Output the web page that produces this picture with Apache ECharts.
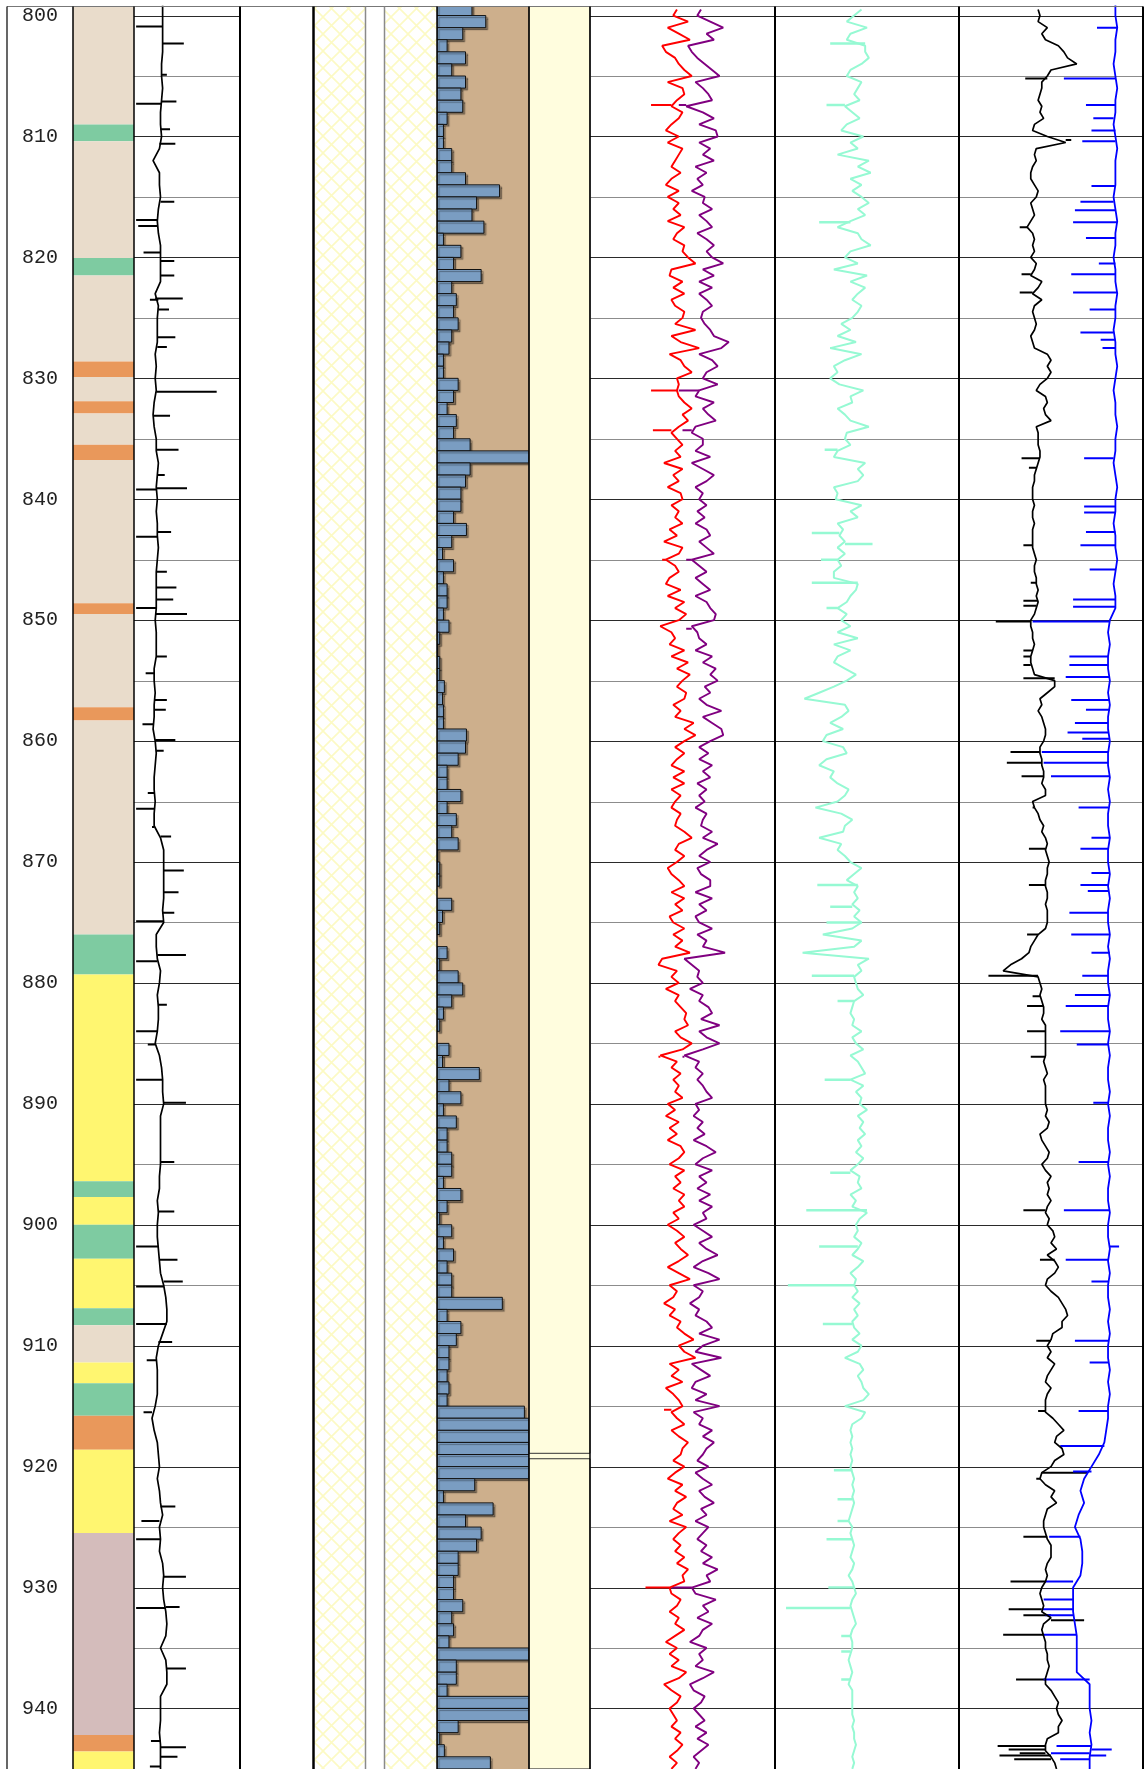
<!DOCTYPE html>
<html>
<head>
<meta charset="utf-8">
<title>Well log</title>
<script src="https://cdn.jsdelivr.net/npm/echarts@6/dist/echarts.min.js"></script>
<style>
  html, body { margin: 0; padding: 0; background: #fff; }
  #main { width: 1147px; height: 1769px; }
</style>
</head>
<body>
<div id="main"></div>
<script>
// ---- depth range and ticks ----
var DEPTH_MIN = 799.25, DEPTH_MAX = 945;
var depthLabels = [800, 810, 820, 830, 840, 850, 860, 870, 880, 890, 900, 910, 920, 930, 940];
var gridDepths = [800, 805, 810, 815, 820, 825, 830, 835, 840, 845, 850, 855, 860, 865, 870,
  875, 880, 885, 890, 895, 900, 905, 910, 915, 920, 925, 930, 935, 940, 945];

// ---- lithology column ----
var lithTop  = [799.25, 809.0, 810.4, 820.05, 821.5, 828.6, 829.9, 831.9, 832.9, 835.5, 836.75, 848.6, 849.5, 857.2, 858.3,
  876.0, 879.3, 896.4, 897.7, 900.0, 902.8, 906.9, 908.3, 911.4, 913.1, 915.8, 918.6, 925.5, 942.2, 943.55];
var lithBase = [809.0, 810.4, 820.05, 821.5, 828.6, 829.9, 831.9, 832.9, 835.5, 836.75, 848.6, 849.5, 857.2, 858.3, 876.0,
  879.3, 896.4, 897.7, 900.0, 902.8, 906.9, 908.3, 911.4, 913.1, 915.8, 918.6, 925.5, 942.2, 943.55, 945];
var lithType = ['mud', 'green', 'mud', 'green', 'mud', 'orange', 'mud', 'orange', 'mud', 'orange', 'mud', 'orange', 'mud', 'orange', 'mud',
  'green', 'sand', 'green', 'sand', 'green', 'sand', 'green', 'mud', 'sand', 'green', 'orange', 'sand', 'mauve', 'orange', 'sand'];

// ---- bar track, one bar per metre (top depth, value 0-100) ----
var barTop0 = 799;
var barValues = [38, 53, 28, 11, 31, 16, 31, 26, 28, 11,
  7, 7, 16, 16, 31, 68, 43, 38, 51, 7,
  26, 18, 48, 16, 21, 18, 23, 16, 13, 7,
  7, 23, 18, 11, 21, 18, 36, 100, 36, 31,
  26, 26, 18, 32, 16, 6, 18, 7, 11, 11,
  7, 13, 3, 1, 3, 3, 8, 6, 7, 7,
  32, 31, 23, 11, 11, 26, 11, 21, 16, 23,
  1, 3, 3, 0, 16, 6, 3, 0, 11, 3,
  23, 28, 16, 7, 3, 0, 13, 6, 46, 13,
  26, 7, 21, 11, 11, 16, 16, 7, 26, 11,
  3, 16, 7, 18, 11, 16, 16, 71, 11, 26,
  21, 13, 13, 11, 13, 11, 95, 100, 100, 100,
  100, 100, 41, 7, 61, 31, 48, 43, 23, 23,
  18, 18, 28, 16, 18, 13, 100, 21, 21, 11,
  100, 100, 23, 3, 8, 58];

// ---- interval boxes in the yellow track ----
var boxTop = [799.25, 919.35];
var boxBase = [918.9, 945];

// ---- track 1 curve, 1 m samples from 799 ----
var t1Start = 799, t1Step = 1;
var t1 = [27, 27, 27, 27, 27, 26, 26, 27, 26, 25,
  25, 26, 24, 18, 24, 24, 25, 23, 22, 23,
  25, 25, 25, 25, 20, 23, 22, 22, 22, 20,
  21, 20, 21, 19, 18, 19, 21, 21, 23, 22,
  21, 22, 21, 22, 22, 23, 22, 21, 21, 21,
  21, 20, 21, 21, 21, 19, 19, 20, 19, 19,
  18, 20, 21, 20, 19, 19, 20, 19, 19, 25,
  28, 28, 28, 28, 28, 27, 28, 21, 21, 22,
  25, 24, 22, 23, 23, 22, 20, 24, 26, 27,
  27, 28, 25, 25, 25, 25, 25, 24, 24, 22,
  23, 22, 22, 23, 24, 25, 28, 30, 31, 31,
  27, 23, 21, 22, 22, 22, 20, 17, 19, 22,
  23, 24, 22, 24, 25, 27, 24, 25, 24, 27,
  28, 27, 28, 30, 31, 30, 25, 30, 31, 31,
  25, 25, 25, 24, 25, 25, 25];
var t1Spikes = [[800.9, 2], [802.3, 47], [804.9, 31], [807.1, 40], [807.3, 2], [809.4, 34], [810.6, 39], [815.4, 38],
  [816.9, 2], [817.4, 4], [819.6, 9], [820.3, 38], [821.5, 38], [823.4, 46], [823.5, 15], [824.3, 33], [826.6, 39],
  [827.4, 31], [831.1, 78], [833.1, 34], [835.9, 42], [838.0, 29], [839.1, 50], [839.2, 2], [842.7, 35], [843.1, 2],
  [846.0, 31], [847.3, 40], [848.3, 37], [849.0, 2], [849.5, 50], [853.0, 31], [854.4, 11], [856.6, 31], [857.4, 30],
  [858.6, 8], [859.9, 39], [860.8, 28], [864.3, 13], [865.6, 2], [867.1, 17], [867.9, 35], [870.7, 47], [872.5, 42],
  [874.2, 38], [874.9, 2], [877.7, 49], [878.2, 2], [881.8, 31], [884.0, 2], [885.1, 13], [888.0, 2], [889.9, 49],
  [894.8, 38], [898.9, 38], [901.8, 2], [902.9, 41], [904.7, 46], [905.1, 2], [908.2, 2], [909.7, 36], [911.2, 12],
  [915.5, 9], [923.3, 39], [924.5, 7], [926.0, 2], [929.1, 49], [931.6, 43], [931.7, 2], [936.7, 49], [942.7, 16],
  [943.2, 49], [944.0, 41], [944.8, 15]];

// ---- half-metre curves from 799.5 ----
var cStart = 799.5, cStep = 0.5;
var red = [47, 45, 53, 42, 48, 54, 39, 41, 46, 48,
  51, 55, 42, 50, 51, 47, 44, 50, 48, 44,
  41, 48, 42, 50, 48, 46, 44, 49, 44, 41,
  48, 42, 48, 45, 49, 42, 51, 47, 45, 51,
  50, 53, 57, 44, 43, 50, 45, 51, 44, 46,
  51, 50, 46, 57, 44, 49, 59, 43, 49, 51,
  55, 47, 48, 47, 48, 51, 55, 50, 53, 48,
  44, 47, 50, 46, 49, 40, 50, 45, 48, 42,
  49, 50, 44, 48, 46, 50, 43, 47, 40, 50,
  48, 41, 46, 48, 43, 41, 49, 42, 51, 46,
  52, 48, 38, 44, 46, 43, 51, 44, 53, 47,
  54, 50, 47, 52, 51, 45, 49, 46, 56, 51,
  57, 51, 46, 51, 47, 44, 51, 45, 51, 44,
  49, 46, 44, 49, 47, 46, 51, 55, 48, 46,
  51, 47, 42, 44, 48, 51, 44, 51, 46, 50,
  43, 45, 51, 45, 50, 46, 54, 39, 37, 47,
  44, 48, 41, 48, 46, 49, 52, 51, 53, 46,
  49, 55, 50, 38, 47, 44, 49, 45, 48, 46,
  50, 42, 46, 41, 48, 43, 47, 42, 49, 51,
  48, 43, 51, 46, 49, 45, 51, 48, 51, 45,
  48, 42, 47, 51, 46, 49, 53, 48, 42, 48,
  54, 43, 47, 45, 40, 46, 43, 49, 47, 51,
  56, 48, 51, 57, 43, 48, 44, 50, 41, 45,
  48, 50, 44, 47, 51, 44, 48, 53, 50, 49,
  45, 51, 46, 42, 50, 46, 52, 47, 45, 50,
  43, 52, 48, 45, 49, 46, 51, 47, 53, 50,
  51, 43, 44, 49, 47, 43, 48, 46, 51, 46,
  41, 47, 43, 48, 44, 52, 48, 40, 44, 49,
  47, 43, 45, 47, 44, 49, 46, 50, 47, 43,
  47, 44];
var redSpikes = [[807.4, 33], [831.0, 33], [834.3, 34], [836.9, 40], [845.0, 39], [850.7, 38], [886.1, 37], [915.3, 40], [930.0, 30]];

var purple = [60, 58, 65, 72, 63, 67, 53, 55, 58, 62,
  66, 70, 57, 61, 64, 66, 52, 61, 67, 59,
  68, 69, 59, 65, 61, 67, 57, 63, 58, 61,
  55, 62, 61, 66, 59, 63, 66, 58, 63, 67,
  63, 66, 72, 61, 67, 59, 66, 59, 63, 66,
  61, 60, 62, 65, 67, 75, 71, 59, 66, 69,
  63, 61, 69, 59, 57, 67, 61, 64, 68, 57,
  55, 61, 61, 57, 65, 55, 61, 67, 63, 57,
  61, 59, 63, 58, 62, 57, 63, 65, 59, 63,
  67, 55, 59, 63, 57, 61, 65, 57, 63, 65,
  68, 67, 55, 58, 59, 63, 57, 66, 61, 68,
  65, 69, 62, 65, 59, 63, 71, 61, 66, 71,
  72, 65, 59, 64, 59, 66, 61, 65, 58, 63,
  59, 62, 57, 63, 61, 60, 66, 61, 69, 63,
  59, 65, 58, 60, 65, 65, 57, 66, 59, 63,
  57, 59, 66, 58, 63, 61, 73, 51, 55, 59,
  58, 61, 54, 61, 59, 64, 66, 60, 70, 59,
  63, 70, 61, 51, 59, 57, 61, 58, 61, 63,
  66, 57, 59, 56, 61, 58, 62, 56, 63, 68,
  61, 57, 66, 59, 63, 58, 65, 59, 66, 61,
  63, 56, 61, 66, 59, 63, 69, 61, 56, 64,
  70, 56, 61, 59, 54, 59, 57, 63, 66, 59,
  70, 61, 57, 71, 55, 60, 65, 57, 55, 63,
  57, 70, 56, 61, 59, 66, 61, 67, 63, 61,
  58, 64, 57, 61, 66, 59, 62, 67, 60, 63,
  57, 64, 61, 58, 63, 60, 66, 61, 69, 63,
  65, 55, 57, 68, 61, 64, 58, 66, 61, 59,
  54, 63, 59, 61, 57, 67, 61, 54, 56, 62,
  60, 56, 59, 62, 57, 63, 58, 64, 60, 56,
  59, 57];
var purpleSpikes = [[807.4, 48], [831.0, 48], [834.3, 50], [845.0, 52], [850.7, 52], [886.1, 50], [930.0, 44]];

var cyan = [47, 43, 39, 50, 41, 39, 49, 49, 51, 47,
  41, 39, 47, 45, 43, 46, 38, 42, 46, 39,
  36, 48, 41, 45, 34, 51, 45, 52, 41, 47,
  42, 47, 51, 45, 49, 41, 34, 45, 47, 52,
  41, 38, 45, 32, 50, 41, 49, 45, 42, 47,
  45, 42, 36, 41, 34, 44, 30, 47, 38, 32,
  34, 30, 35, 48, 41, 42, 34, 38, 41, 51,
  39, 38, 41, 34, 32, 49, 45, 48, 45, 32,
  34, 33, 47, 41, 45, 34, 37, 35, 38, 34,
  38, 34, 36, 32, 32, 45, 44, 41, 39, 34,
  39, 36, 41, 34, 45, 32, 41, 34, 32, 38,
  44, 39, 32, 24, 16, 38, 40, 36, 30, 37,
  28, 26, 37, 39, 28, 24, 32, 30, 34, 40,
  38, 34, 22, 36, 42, 38, 37, 24, 36, 34,
  38, 41, 47, 43, 39, 45, 43, 45, 42, 46,
  43, 47, 42, 26, 47, 43, 15, 51, 45, 47,
  43, 44, 45, 48, 43, 42, 41, 43, 42, 47,
  42, 44, 48, 41, 45, 47, 49, 41, 48, 44,
  47, 46, 50, 45, 48, 46, 49, 45, 47, 44,
  48, 45, 41, 46, 45, 47, 41, 44, 42, 50,
  46, 44, 45, 43, 47, 45, 42, 48, 45, 41,
  44, 43, 45, 42, 46, 43, 45, 42, 43, 46,
  42, 47, 45, 38, 46, 48, 45, 47, 48, 51,
  48, 38, 49, 47, 42, 41, 42, 41, 42, 41,
  42, 41, 42, 43, 42, 43, 42, 43, 42, 41,
  40, 42, 41, 42, 43, 42, 41, 43, 42, 40,
  42, 43, 44, 42, 41, 42, 43, 44, 42, 41,
  42, 42, 41, 40, 41, 42, 41, 40, 42, 42,
  42, 42, 42, 43, 42, 43, 43, 44, 43, 42,
  43, 42];
var cyanSpikes = [[802.3, 30], [807.4, 28], [817.1, 24], [835.9, 27], [842.8, 20], [843.7, 53], [845.0, 25], [846.9, 20],
  [849.0, 28], [871.9, 23], [873.7, 30], [875.0, 28], [879.4, 20], [881.5, 34], [888.0, 27], [895.7, 30], [898.8, 17],
  [901.8, 24], [905.0, 7], [908.2, 26], [920.3, 32], [922.7, 34], [924.5, 34], [926.0, 28], [930.0, 29], [931.7, 6],
  [934.0, 36], [935.3, 36], [937.6, 36]];

var black2 = [43, 44, 43, 48, 45, 47, 54, 57, 59, 64,
  50, 48, 45, 45, 44, 43, 45, 44, 46, 41,
  40, 48, 58, 42, 41, 42, 40, 39, 39, 41,
  43, 42, 39, 40, 41, 39, 37, 40, 41, 40,
  41, 39, 42, 41, 39, 45, 43, 40, 45, 41,
  40, 41, 42, 41, 39, 40, 41, 48, 50, 48,
  50, 48, 44, 42, 47, 48, 46, 47, 50, 42,
  43, 43, 43, 44, 44, 43, 42, 41, 41, 40,
  40, 40, 41, 40, 40, 41, 40, 40, 40, 40,
  41, 42, 41, 41, 42, 42, 43, 42, 43, 42,
  41, 39, 39, 40, 40, 41, 40, 39, 39, 40,
  41, 52, 52, 48, 44, 45, 43, 45, 46, 47,
  47, 46, 44, 44, 45, 45, 46, 46, 45, 47,
  47, 40, 41, 43, 44, 46, 45, 47, 48, 47,
  48, 49, 48, 48, 47, 47, 48, 48, 47, 48,
  48, 48, 47, 43, 41, 39, 38, 34, 28, 24,
  43, 44, 45, 44, 45, 46, 46, 45, 47, 47,
  47, 47, 47, 47, 46, 47, 48, 46, 47, 47,
  47, 47, 48, 47, 49, 48, 44, 45, 47, 49,
  48, 45, 47, 50, 48, 49, 48, 50, 48, 47,
  49, 48, 51, 52, 50, 53, 48, 52, 54, 52,
  48, 47, 50, 54, 56, 58, 59, 56, 56, 51,
  50, 48, 50, 48, 52, 50, 48, 47, 50, 48,
  47, 47, 47, 51, 54, 57, 53, 52, 56, 57,
  52, 50, 45, 44, 47, 52, 50, 53, 48, 47,
  46, 46, 47, 48, 50, 50, 50, 48, 47, 48,
  47, 45, 44, 45, 46, 45, 50, 46, 45, 46,
  47, 47, 48, 48, 49, 48, 47, 47, 50, 52,
  54, 53, 54, 56, 54, 54, 48, 47, 47, 50,
  52, 53];
var black2Spikes = [[805.2, 36], [810.3, 61], [817.5, 33], [821.4, 34], [822.9, 33], [836.6, 34], [837.4, 38], [843.8, 35],
  [846.9, 39], [848.4, 35], [848.8, 35], [850.1, 20], [852.5, 35], [853.0, 35], [853.7, 35], [854.8, 35], [860.9, 28],
  [861.8, 26], [862.9, 34], [865.5, 40], [868.9, 38], [871.9, 38], [876.0, 37], [879.4, 16], [881.1, 40], [881.9, 37],
  [884.0, 37], [886.1, 39], [898.8, 35], [902.9, 44], [909.6, 42], [915.4, 43], [920.5, 70], [921.0, 42], [925.8, 35],
  [929.5, 28], [931.8, 27], [932.3, 35], [932.7, 68], [933.9, 24], [937.6, 31], [943.1, 21], [943.4, 27], [943.7, 33],
  [943.9, 22], [944.2, 30]];

// ---- blue curve, 1 m samples from 799 ----
var blueStart = 799, blueStep = 1;
var blue = [85, 85, 86, 85, 85, 84, 85, 86, 85, 85,
  84, 85, 86, 85, 85, 85, 84, 85, 86, 85,
  85, 84, 85, 85, 86, 85, 85, 84, 85, 85,
  86, 85, 84, 85, 85, 86, 85, 85, 84, 85,
  86, 85, 85, 84, 85, 85, 86, 85, 84, 85,
  85, 82, 81, 82, 81, 81, 82, 81, 82, 81,
  81, 82, 81, 81, 82, 81, 82, 81, 81, 82,
  81, 81, 82, 81, 82, 81, 81, 82, 81, 82,
  81, 81, 82, 81, 81, 82, 81, 82, 81, 81,
  82, 81, 82, 81, 81, 82, 81, 82, 81, 81,
  82, 81, 81, 82, 81, 82, 81, 81, 82, 81,
  82, 81, 81, 82, 81, 82, 81, 81, 80, 79,
  76, 72, 68, 66, 68, 65, 63, 66, 67, 67,
  66, 62, 62, 62, 63, 64, 64, 64, 64, 71,
  71, 71, 72, 71, 72, 71, 71];
var blueSpikes = [[801.0, 75], [805.2, 57], [807.4, 69], [808.5, 73], [809.5, 72], [810.4, 67], [814.1, 72], [815.4, 66],
  [816.1, 63], [817.1, 62], [818.4, 69], [820.5, 76], [821.4, 61], [822.9, 62], [824.3, 71], [826.2, 66], [826.8, 77],
  [827.5, 78], [836.6, 68], [840.6, 68], [841.1, 68], [842.7, 69], [843.8, 66], [845.8, 71], [848.3, 62], [848.9, 62],
  [850.1, 40], [853.0, 60], [853.7, 60], [854.7, 58], [856.6, 61], [857.4, 69], [858.5, 63], [859.3, 59], [859.8, 67],
  [860.9, 45], [861.8, 46], [862.9, 50], [865.5, 65], [868.0, 72], [868.9, 66], [870.9, 72], [871.9, 66], [872.4, 70],
  [874.2, 60], [876.0, 61], [877.5, 72], [879.4, 67], [881.0, 63], [881.9, 58], [884.0, 55], [885.1, 64], [889.9, 73],
  [894.8, 65], [898.8, 57], [901.8, 87], [902.9, 58], [904.7, 72], [909.6, 63], [911.4, 71], [915.4, 65], [918.3, 55],
  [920.4, 62], [925.8, 49], [929.5, 47], [931.0, 46], [931.8, 45], [932.3, 47], [933.9, 46], [937.6, 46], [943.1, 53],
  [943.4, 83], [943.7, 50], [943.9, 80], [944.2, 55]];

// ---- layout (px) ----
var TOP = 6.5, PX_PER_M = 12.092;
var PLOT_H = (DEPTH_MAX - DEPTH_MIN) * PX_PER_M;
var tracks = [
  { key: 'depth', left: 7, width: 66 },
  { key: 'lith', left: 73, width: 61 },
  { key: 't1', left: 134, width: 106 },
  { key: 'pat1', left: 313, width: 52 },
  { key: 'pat2', left: 385, width: 52 },
  { key: 'bar', left: 437, width: 92, bg: '#cdaf8c' },
  { key: 'yel', left: 529, width: 61, bg: '#fffdde' },
  { key: 'rp', left: 590, width: 185 },
  { key: 'cy', left: 775, width: 184 },
  { key: 'bb', left: 959, width: 184 }
];
var vLines = [
  [7, 1.2, '#000'], [73, 1.5, '#000'], [134, 1.5, '#000'], [240, 2, '#000'], [313.5, 2.5, '#000'],
  [365.5, 1.5, '#8a8a8a'], [384.5, 1.5, '#8a8a8a'], [437, 1.5, '#000'], [529, 1.5, '#000'],
  [590, 1.5, '#000'], [775, 2, '#000'], [959, 2, '#000'], [1143, 2, '#000']
];
var lithColors = { mud: '#e9dccb', green: '#7ecba1', orange: '#e9985b', sand: '#fff670', mauve: '#d4bcbb' };

var gi = {};
tracks.forEach(function (t, i) { gi[t.key] = i; });

function hatchCanvas() {
  var s = 17;
  var c = document.createElement('canvas');
  c.width = s; c.height = s;
  var g = c.getContext('2d');
  g.fillStyle = '#ffffff';
  g.fillRect(0, 0, s, s);
  g.strokeStyle = '#fcfac4';
  g.lineWidth = 1.6;
  g.beginPath();
  g.moveTo(0, 0); g.lineTo(s, s);
  g.moveTo(s, 0); g.lineTo(0, s);
  g.stroke();
  return c;
}
var hatch = hatchCanvas();

var grids = [], xAxes = [], yAxes = [];
tracks.forEach(function (t, i) {
  grids.push({
    left: t.left, top: TOP, width: t.width, height: PLOT_H,
    show: !!t.bg, backgroundColor: t.bg || 'transparent', borderWidth: 0
  });
  xAxes.push({ gridIndex: i, type: 'value', min: 0, max: 100, show: false });
  yAxes.push({
    gridIndex: i, type: 'value', inverse: true, min: DEPTH_MIN, max: DEPTH_MAX,
    show: t.key === 'lith',
    position: 'left',
    axisLine: { show: false }, axisTick: { show: false }, splitLine: { show: false },
    axisLabel: {
      show: t.key === 'lith', margin: 15, customValues: depthLabels,
      fontFamily: 'Liberation Mono', fontSize: 20, color: '#222'
    }
  });
});

function rectShape(api, x0, d0, x1, d1) {
  var a = api.coord([x0, d0]), b = api.coord([x1, d1]);
  return { x: a[0], y: a[1], width: b[0] - a[0], height: b[1] - a[1] };
}

var series = [];

// lithology
series.push({
  type: 'custom', xAxisIndex: gi.lith, yAxisIndex: gi.lith, clip: true, silent: true,
  data: lithTop.map(function (t, i) { return [t, lithBase[i]]; }),
  renderItem: function (params, api) {
    return {
      type: 'rect', shape: rectShape(api, 0, api.value(0), 100, api.value(1)),
      style: { fill: lithColors[lithType[params.dataIndex]] }
    };
  }
});

// hatched tracks
['pat1', 'pat2'].forEach(function (k) {
  series.push({
    type: 'custom', xAxisIndex: gi[k], yAxisIndex: gi[k], clip: true, silent: true,
    data: [[DEPTH_MIN, DEPTH_MAX]],
    renderItem: function (params, api) {
      return {
        type: 'rect', shape: rectShape(api, 0, api.value(0), 100, api.value(1)),
        style: { fill: { image: hatch, repeat: 'repeat' } }
      };
    }
  });
});

// bars
series.push({
  type: 'custom', xAxisIndex: gi.bar, yAxisIndex: gi.bar, clip: true, silent: true,
  data: barValues.map(function (v, i) { return [barTop0 + i, v]; }),
  renderItem: function (params, api) {
    var d = api.value(0), v = api.value(1);
    if (v <= 0) return null;
    return {
      type: 'rect', shape: rectShape(api, 0, d, v, d + 1),
      style: {
        fill: '#7a9dc2', stroke: '#111', lineWidth: 1,
        shadowColor: 'rgba(0,0,0,0.35)', shadowOffsetX: 2, shadowOffsetY: 2, shadowBlur: 1
      }
    };
  }
});

// interval boxes
series.push({
  type: 'custom', xAxisIndex: gi.yel, yAxisIndex: gi.yel, clip: false, silent: true,
  data: boxTop.map(function (t, i) { return [t, boxBase[i]]; }),
  renderItem: function (params, api) {
    return {
      type: 'rect', shape: rectShape(api, 0, api.value(0), 100, api.value(1)),
      style: { fill: '#fffdde', stroke: '#333', lineWidth: 1 }
    };
  }
});

// horizontal depth lines in curve tracks
['t1', 'rp', 'cy', 'bb'].forEach(function (k) {
  series.push({
    type: 'custom', xAxisIndex: gi[k], yAxisIndex: gi[k], clip: true, silent: true,
    data: gridDepths.map(function (d) { return [d]; }),
    renderItem: function (params, api) {
      var d = api.value(0);
      var a = api.coord([0, d]), b = api.coord([100, d]);
      var major = d % 10 === 0;
      return {
        type: 'line', shape: { x1: a[0], y1: Math.round(a[1]) + 0.5, x2: b[0], y2: Math.round(a[1]) + 0.5 },
        style: { stroke: major ? '#2a2a2a' : '#8c8c8c', lineWidth: 1 }
      };
    }
  });
});

function curve(k, values, start, step, color, width) {
  return {
    type: 'line', xAxisIndex: gi[k], yAxisIndex: gi[k], silent: true,
    showSymbol: false, symbol: 'none', clip: true,
    lineStyle: { color: color, width: width },
    data: values.map(function (v, i) { return [v, start + i * step]; })
  };
}
function spikes(k, list, values, start, step, color, width) {
  return {
    type: 'custom', xAxisIndex: gi[k], yAxisIndex: gi[k], clip: true, silent: true,
    data: list,
    renderItem: function (params, api) {
      var d = api.value(0), v = api.value(1);
      var n = Math.max(0, Math.min(values.length - 1, Math.round((d - start) / step)));
      var a = api.coord([values[n], d]), b = api.coord([v, d]);
      return {
        type: 'line', shape: { x1: a[0], y1: a[1], x2: b[0], y2: b[1] },
        style: { stroke: color, lineWidth: width }
      };
    }
  };
}

series.push(curve('t1', t1, t1Start, t1Step, '#000', 1.7));
series.push(spikes('t1', t1Spikes, t1, t1Start, t1Step, '#000', 2));
series.push(curve('rp', red, cStart, cStep, '#ff0000', 1.9));
series.push(spikes('rp', redSpikes, red, cStart, cStep, '#ff0000', 2));
series.push(curve('rp', purple, cStart, cStep, '#800080', 1.9));
series.push(spikes('rp', purpleSpikes, purple, cStart, cStep, '#800080', 2));
series.push(curve('cy', cyan, cStart, cStep, '#96f9d3', 2));
series.push(spikes('cy', cyanSpikes, cyan, cStart, cStep, '#96f9d3', 2.5));
series.push(curve('bb', black2, cStart, cStep, '#000', 1.7));
series.push(spikes('bb', black2Spikes, black2, cStart, cStep, '#000', 2));
series.push(curve('bb', blue, blueStart, blueStep, '#0000ff', 1.8));
series.push(spikes('bb', blueSpikes, blue, blueStart, blueStep, '#0000ff', 2));

var graphics = [{
  type: 'line', silent: true, z: 100,
  shape: { x1: 7, y1: TOP, x2: 1143, y2: TOP },
  style: { stroke: '#777', lineWidth: 1 }
}];
vLines.forEach(function (l) {
  graphics.push({
    type: 'line', silent: true, z: 100,
    shape: { x1: l[0], y1: TOP, x2: l[0], y2: 1769 },
    style: { stroke: l[2], lineWidth: l[1] }
  });
});

var chart = echarts.init(document.getElementById('main'), null, { renderer: 'canvas' });
chart.setOption({
  animation: false,
  backgroundColor: '#fff',
  grid: grids,
  xAxis: xAxes,
  yAxis: yAxes,
  graphic: graphics,
  series: series
});
</script>
</body>
</html>
